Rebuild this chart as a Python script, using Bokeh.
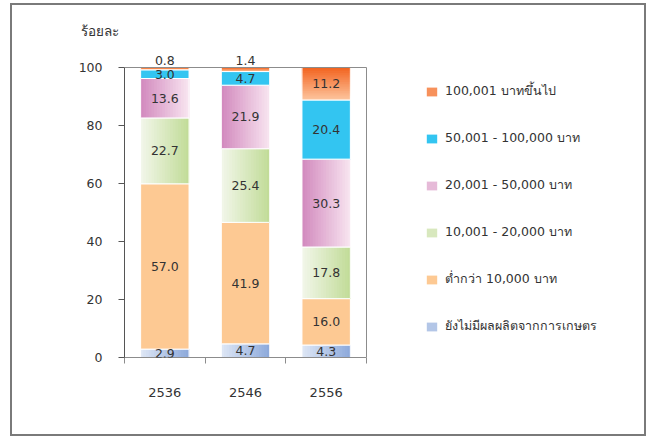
import numpy as np
from bokeh.plotting import figure
from bokeh.models import Range1d, FixedTicker, Legend, LegendItem, LabelSet, ColumnDataSource
from bokeh.core.properties import value
from bokeh.embed import file_html
from bokeh.resources import INLINE

# ---------------- data ----------------
years = ["2536", "2546", "2556"]
y_ticks = [0, 20, 40, 60, 80, 100]

no_produce = [2.9, 4.7, 4.3]
below_10k = [57.0, 41.9, 16.0]
r10_20k = [22.7, 25.4, 17.8]
r20_50k = [13.6, 21.9, 30.3]
r50_100k = [3.0, 4.7, 20.4]
over_100k = [0.8, 1.4, 11.2]

series_names = [
    "ยังไม่มีผลผลิตจากการเกษตร",
    "ต่ำกว่า 10,000 บาท",
    "10,001 - 20,000 บาท",
    "20,001 - 50,000 บาท",
    "50,001 - 100,000 บาท",
    "100,001 บาทขึ้นไป",
]
series_values = [no_produce, below_10k, r10_20k, r20_50k, r50_100k, over_100k]

# style: (kind, color_a, color_b)
styles = [
    ("h", "#dde6f5", "#8eaadb"),
    ("solid", "#fdc993", "#fdc993"),
    ("h", "#f1f6e8", "#c2dc99"),
    ("h", "#d38bbf", "#f7e3ef"),
    ("solid", "#33c5f1", "#33c5f1"),
    ("v", "#fdc39b", "#f26522"),
]

FONT = "DejaVu Sans"
TXT = "#333333"
N = 18
W = 0.6

# layout (pixels)
PX_X = 242 / 3      # pixels per category
PX_Y = 2.9          # pixels per percent
FRAME_W = 520
FRAME_H = 317


def mix(a, b, t):
    a = [int(a[i:i + 2], 16) for i in (1, 3, 5)]
    b = [int(b[i:i + 2], 16) for i in (1, 3, 5)]
    c = [round(a[k] + (b[k] - a[k]) * t) for k in range(3)]
    return "#%02x%02x%02x" % tuple(c)


p = figure(
    output_backend="svg", toolbar_location=None,
    frame_width=FRAME_W, frame_height=FRAME_H,
    min_border_left=112, min_border_right=0, min_border_top=35, min_border_bottom=77,
    x_range=Range1d(0, FRAME_W / PX_X), y_range=Range1d(0, FRAME_H / PX_Y),
    title="ร้อยละ",
)
p.styles = {"border": "2px solid #7a7a7a", "margin-top": "3px", "margin-left": "10px"}

ncat = len(years)
ymax = y_ticks[-1]

xs = np.arange(ncat) + 0.5
base = np.zeros(ncat)
legend_map = {}
for name, vals, (kind, ca, cb) in zip(series_names, series_values, styles):
    vals = np.array(vals, dtype=float)
    top = base + vals
    left = xs - W / 2
    right = xs + W / 2
    if kind == "solid":
        r = p.quad(left=left, right=right, bottom=base, top=top, fill_color=ca, line_color=None)
        legend_map[name] = [r]
    elif kind == "h":
        rs = []
        for i in range(N):
            t = i / (N - 1)
            r = p.quad(left=left + W * i / N, right=right, bottom=base, top=top,
                       fill_color=mix(ca, cb, t), line_color=None)
            rs.append(r)
        legend_map[name] = [rs[N // 2]]
    else:
        rs = []
        for i in range(N):
            t = i / (N - 1)
            r = p.quad(left=left, right=right, bottom=base + vals * i / N, top=top,
                       fill_color=mix(ca, cb, t), line_color=None)
            rs.append(r)
        legend_map[name] = [rs[N // 2]]
    # white separators
    p.quad(left=left, right=right, bottom=base, top=top, fill_alpha=0, line_color="white", line_width=1)
    base = top

# plot-area border (top and right)
p.segment(x0=[0, ncat], y0=[ymax, 0], x1=[ncat, ncat], y1=[ymax, ymax], line_color="#8c8c8c", line_width=1)

# data labels
lab_x, lab_y, lab_t = [], [], []
top_x, top_t = [], []
base = np.zeros(ncat)
for vals in series_values:
    for j, v in enumerate(vals):
        if v < 2:
            top_x.append(xs[j])
            top_t.append("%.1f" % v)
        else:
            lab_x.append(xs[j])
            lab_y.append(base[j] + v / 2)
            lab_t.append("%.1f" % v)
    base = base + np.array(vals)

src = ColumnDataSource(dict(x=lab_x, y=lab_y, t=lab_t))
p.add_layout(LabelSet(x="x", y="y", text="t", source=src, text_align="center", text_baseline="middle",
                      text_font=value(FONT), text_font_size="12.5px", text_color=TXT))
src2 = ColumnDataSource(dict(x=top_x, y=[ymax] * len(top_x), t=top_t))
p.add_layout(LabelSet(x="x", y="y", text="t", source=src2, text_align="center", text_baseline="bottom",
                      y_offset=3, text_font=value(FONT), text_font_size="12.5px", text_color=TXT))

# axes
p.xgrid.visible = False
p.ygrid.visible = False
p.outline_line_color = None

p.yaxis.bounds = (0, ymax)
p.yaxis.ticker = FixedTicker(ticks=y_ticks)
p.yaxis.major_tick_out = 6
p.yaxis.major_tick_in = 0
p.yaxis.minor_tick_out = 0
p.yaxis.minor_tick_in = 0
p.yaxis.axis_line_color = "#555555"
p.yaxis.major_tick_line_color = "#555555"
p.yaxis.major_label_text_font = FONT
p.yaxis.major_label_text_font_size = "12.5px"
p.yaxis.major_label_text_color = TXT
p.yaxis.major_label_standoff = 16

p.xaxis.bounds = (0, ncat)
p.xaxis.ticker = FixedTicker(ticks=list(xs), minor_ticks=list(np.arange(ncat + 1)))
p.xaxis.major_label_overrides = {float(x): y for x, y in zip(xs, years)}
p.xaxis.major_tick_out = 0
p.xaxis.major_tick_in = 0
p.xaxis.minor_tick_out = 6
p.xaxis.minor_tick_in = 0
p.xaxis.axis_line_color = "#8c8c8c"
p.xaxis.minor_tick_line_color = "#8c8c8c"
p.xaxis.major_label_text_font = FONT
p.xaxis.major_label_text_font_size = "13px"
p.xaxis.major_label_text_color = TXT
p.xaxis.major_label_standoff = 24

p.title.align = "left"
p.title.offset = -44
p.title.standoff = 4
p.title.text_font = FONT
p.title.text_font_size = "13.5px"
p.title.text_font_style = "normal"
p.title.text_color = TXT

# legend (top item = top of stack)
items = [LegendItem(label=n, renderers=legend_map[n]) for n in reversed(series_names)]
legend = Legend(items=items, location=(301, 21), orientation="vertical",
                glyph_width=13, glyph_height=11, label_height=16, label_standoff=7, spacing=27,
                label_text_font=FONT, label_text_font_size="12.5px", label_text_color=TXT,
                padding=0, margin=0, border_line_color=None, background_fill_alpha=0)
p.add_layout(legend)

open("out.html", "w").write(file_html(p, INLINE))
